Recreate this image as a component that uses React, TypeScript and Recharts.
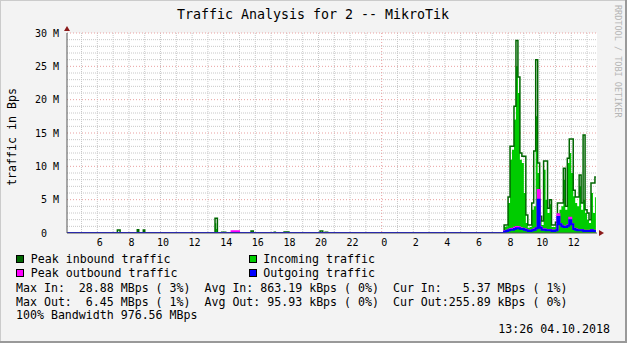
import { ComposedChart, Area, Line, XAxis, YAxis, CartesianGrid } from "recharts";

// time of day in hours (24+ = next day), one row per rrd step
const hours = [
  4.08, 7.27, 7.44, 8.53, 8.62, 8.91, 9.0, 13.45, 13.53, 13.6, 13.87, 14.13, 14.5, 14.97,
  15.73, 15.87, 17.2, 17.27, 17.82, 18.13, 20.1, 20.27, 20.42, 20.58,
  31.75, 31.875, 32, 32.125, 32.25, 32.375, 32.5, 32.625, 32.75, 32.875,
  33, 33.125, 33.25, 33.375, 33.5, 33.625, 33.75, 33.875, 34, 34.125,
  34.25, 34.375, 34.5, 34.625, 34.75, 34.875, 35, 35.125, 35.25, 35.375,
  35.5, 35.625, 35.75, 35.875, 36, 36.125, 36.25, 36.375, 36.5, 36.625,
  36.75, 36.875, 37, 37.125, 37.25, 37.375, 37.5, 37.56,
];

// MBps
const peakIn = [
  0, 0.45, 0, 0.5, 0, 0.45, 0, 2.2, 2.2, 0, 0.12, 0, 0, 0,
  0.3, 0, 0.1, 0, 0.15, 0, 0.3, 0, 0.12, 0,
  1.2, 1.2, 5.4, 13, 13, 19, 28.88, 23.4, 12, 11.5,
  11.5, 2.7, 1.2, 1.2, 4.5, 12.3, 26, 10.5, 2.5, 1.8,
  10.8, 10.8, 3.7, 5, 1.2, 1.2, 1.6, 4.5, 4.5, 4.5,
  9.7, 4, 11.2, 14.1, 14.1, 6.4, 5.4, 5.4, 8.7, 4.5,
  14.7, 3.5, 3, 2, 7.5, 7.5, 8.4, 8.4,
];

const incoming = [
  0, 0.1, 0, 0.45, 0, 0.4, 0, 1.45, 0.6, 0, 0.1, 0, 0, 0,
  0.25, 0, 0.08, 0, 0.12, 0, 0.05, 0, 0.1, 0,
  0.9, 1.0, 4.5, 11, 12.5, 17, 25, 21, 11, 10.5,
  6, 1.5, 0.8, 0.9, 3.5, 4, 17.5, 9, 2, 1.2,
  9.5, 5, 3, 4.3, 0.9, 0.9, 1.3, 3, 3.5, 4,
  8, 3.5, 10.5, 12, 9, 5.5, 4.5, 4, 7, 3.5,
  5, 3, 2, 1.5, 6, 3, 5.37, 5.37,
];

const peakOut = [
  0, 0, 0, 0, 0, 0, 0, 0, 0, 0, 0, 0, 0.25, 0,
  0, 0, 0, 0, 0, 0, 0, 0, 0, 0,
  0.25, 0.35, 0.5, 0.6, 0.65, 0.8, 0.9, 0.85, 0.7, 0.65,
  0.55, 0.45, 0.35, 0.35, 0.45, 0.55, 0.75, 6.45, 0.85, 0.55,
  0.55, 0.45, 0.45, 0.45, 0.35, 0.35, 0.45, 2.8, 1.35, 1.05,
  0.95, 0.95, 1.15, 2.3, 1.35, 0.65, 0.55, 0.45, 0.45, 0.45,
  0.35, 0.35, 0.35, 0.35, 0.45, 0.35, 0.3, 0.3,
];

const outgoing = [
  0, 0, 0, 0, 0, 0, 0, 0, 0, 0, 0, 0, 0, 0,
  0, 0, 0, 0, 0, 0, 0, 0, 0, 0,
  0.2, 0.3, 0.4, 0.5, 0.5, 0.6, 0.7, 0.7, 0.6, 0.6,
  0.5, 0.4, 0.3, 0.3, 0.4, 0.5, 0.7, 5, 0.8, 0.5,
  0.5, 0.4, 0.4, 0.4, 0.3, 0.3, 0.4, 2.4, 1.3, 1.0,
  0.9, 0.9, 1.1, 1.9, 1.3, 0.6, 0.5, 0.4, 0.4, 0.4,
  0.3, 0.3, 0.3, 0.3, 0.4, 0.3, 0.26, 0.26,
];

const xDomain = [4.08, 37.63];
const yDomain = [0, 30];
const hourTicks = [6, 8, 10, 12, 14, 16, 18, 20, 22, 24, 26, 28, 30, 32, 34, 36];
const valueTicks = [0, 5, 10, 15, 20, 25, 30];
const minorY = [1, 2, 3, 4, 6, 7, 8, 9, 11, 12, 13, 14, 16, 17, 18, 19, 21, 22, 23, 24, 26, 27, 28, 29];
const majorY = [5, 10, 15, 20, 25, 30];
const minorX = [
  5, 6, 7, 8, 9, 10, 11, 12, 13, 14, 15, 16, 17, 18, 19, 20, 21, 22, 23,
  25, 26, 27, 28, 29, 30, 31, 32, 33, 34, 35, 36, 37,
];
const majorX = [24];

const legendRows = [
  ["Peak inbound traffic", "#006600", "Incoming traffic", "#00CC00"],
  ["Peak outbound traffic", "#FF00FF", "Outgoing traffic", "#0000FF"],
];
const statLines = [
  "Max In:  28.88 MBps ( 3%)  Avg In: 863.19 kBps ( 0%)  Cur In:   5.37 MBps ( 1%)",
  "Max Out:  6.45 MBps ( 1%)  Avg Out: 95.93 kBps ( 0%)  Cur Out:255.89 kBps ( 0%)",
  "100% Bandwidth 976.56 MBps",
];

const mono = "DejaVu Sans Mono";

const rows = hours.map((h, i) => ({
  h,
  peakIn: peakIn[i],
  incoming: incoming[i],
  peakOut: peakOut[i],
  outgoing: outgoing[i],
}));

const YTick = ({ x, y, payload }: any) => {
  const v = payload.value;
  return (
    <text x={v === 0 ? x - 12 : x} y={y} dy={3.5} textAnchor="end" fontSize={10} fontFamily={mono} fill="#000">
      {v === 0 ? "0" : `${v} M`}
    </text>
  );
};

const XTick = ({ x, y, payload }: any) => (
  <text x={x + 2.5} y={y} dy={5} textAnchor="middle" fontSize={10} fontFamily={mono} fill="#000">
    {payload.value % 24}
  </text>
);

// grid lines at given values; use the axis scale when the grid hands it over
const ys = (vals: number[]) => (p: any) => {
  const s = p?.yAxis?.scale;
  if (typeof s === "function") return vals.map((v) => s(v));
  const o = p.offset;
  return vals.map((v) => o.top + o.height * (1 - (v - yDomain[0]) / (yDomain[1] - yDomain[0])));
};
const xs = (vals: number[]) => (p: any) => {
  const s = p?.xAxis?.scale;
  if (typeof s === "function") return vals.map((v) => s(v));
  const o = p.offset;
  return vals.map((v) => o.left + (o.width * (v - xDomain[0])) / (xDomain[1] - xDomain[0]));
};

export default function App() {
  return (
    <div style={{ position: "absolute", left: 0, top: 0, width: 627, height: 343, background: "#f3f3f3" }}>
      <ComposedChart width={627} height={343} data={rows} margin={{ top: 33, right: 30, bottom: 90, left: 7 }}>
        <CartesianGrid
          fill="#ffffff"
          stroke="#c8c8c8"
          strokeDasharray="1 1"
          horizontalCoordinatesGenerator={ys(minorY)}
          verticalCoordinatesGenerator={xs(minorX)}
        />
        <CartesianGrid
          stroke="#e9a0a0"
          strokeDasharray="1 2"
          horizontalCoordinatesGenerator={ys(majorY)}
          verticalCoordinatesGenerator={xs(majorX)}
        />
        <XAxis
          dataKey="h"
          type="number"
          domain={xDomain}
          ticks={hourTicks}
          tick={<XTick />}
          tickLine={false}
          axisLine={{ stroke: "#555" }}
          height={20}
          allowDataOverflow
        />
        <YAxis
          type="number"
          domain={yDomain}
          ticks={valueTicks}
          tick={<YTick />}
          tickLine={false}
          axisLine={{ stroke: "#555" }}
          width={60}
          allowDataOverflow
        />
        <Area type="stepAfter" dataKey="incoming" fill="#00CC00" fillOpacity={1} stroke="none" isAnimationActive={false} />
        <Line type="stepAfter" dataKey="peakIn" stroke="#006600" strokeWidth={1.5} dot={false} isAnimationActive={false} />
        <Line type="stepAfter" dataKey="peakOut" stroke="#FF00FF" strokeWidth={2} dot={false} isAnimationActive={false} />
        <Line type="stepAfter" dataKey="outgoing" stroke="#0000FF" strokeWidth={2} dot={false} isAnimationActive={false} />
      </ComposedChart>
      <svg width={627} height={343} style={{ position: "absolute", left: 0, top: 0, pointerEvents: "none" }}>
        <line x1={0} y1={0.5} x2={627} y2={0.5} stroke="#cbcbcb" />
        <line x1={0.5} y1={0} x2={0.5} y2={343} stroke="#cbcbcb" />
        <line x1={626} y1={0} x2={626} y2={343} stroke="#999" strokeWidth={2} />
        <line x1={0} y1={342} x2={627} y2={342} stroke="#999" strokeWidth={2} />
        <polygon points="64,31 70,31 67,26" fill="#8b1a1a" />
        <polygon points="599,230 599,236 604,233" fill="#8b1a1a" />
        <text x={313} y={14} textAnchor="middle" dominantBaseline="central" fontSize={13.3} fontFamily={mono}>
          Traffic Analysis for 2 -- MikroTik
        </text>
        <text
          x={12}
          y={137}
          textAnchor="middle"
          dominantBaseline="central"
          fontSize={11.6}
          fontFamily={mono}
          transform="rotate(-90 12 137)"
        >
          traffic in Bps
        </text>
        <text x={614.5} y={5} fontSize={8.5} fontFamily={mono} fill="#b5b5b5" transform="rotate(90 614.5 5)">
          RRDTOOL / TOBI OETIKER
        </text>
        {legendRows.map((r, i) => (
          <g key={i}>
            <rect x={16.5} y={255.5 + i * 14} width={7} height={7} fill={r[1]} stroke="#000" />
            <text x={30.8} y={259.3 + i * 14} dominantBaseline="central" fontSize={11.6} fontFamily={mono}>
              {r[0]}
            </text>
            <rect x={249.5} y={255.5 + i * 14} width={7} height={7} fill={r[3]} stroke="#000" />
            <text x={263.2} y={259.3 + i * 14} dominantBaseline="central" fontSize={11.6} fontFamily={mono}>
              {r[2]}
            </text>
          </g>
        ))}
        {statLines.map((s, i) => (
          <text
            key={s}
            x={16}
            y={287.7 + i * 13.8}
            dominantBaseline="central"
            fontSize={11.6}
            fontFamily={mono}
            style={{ whiteSpace: "pre" }}
          >
            {s}
          </text>
        ))}
        <text x={610} y={328.7} textAnchor="end" dominantBaseline="central" fontSize={11.6} fontFamily={mono}>
          13:26 04.10.2018
        </text>
      </svg>
    </div>
  );
}
